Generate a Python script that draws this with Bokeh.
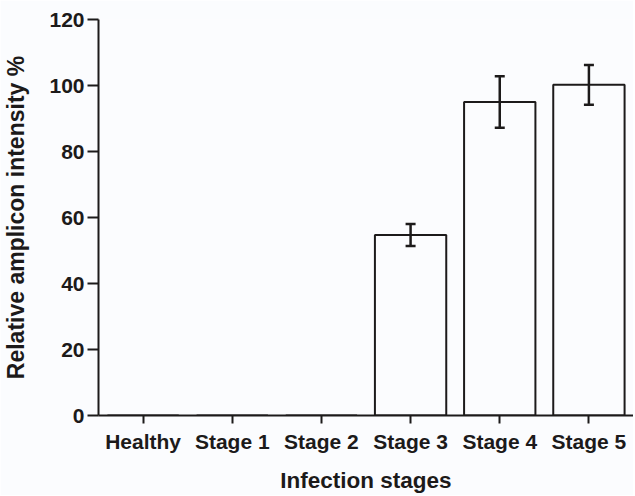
from bokeh.plotting import figure
from bokeh.models import ColumnDataSource, Whisker, TeeHead, FactorRange, FixedTicker
from bokeh.embed import file_html
from bokeh.resources import INLINE

categories = ["Healthy", "Stage 1", "Stage 2", "Stage 3", "Stage 4", "Stage 5"]
intensity = [0, 0, 0, 54.7, 95.0, 100.2]
error = [0, 0, 0, 3.3, 7.8, 6.0]
y_ticks = [0, 20, 40, 60, 80, 100, 120]

upper = [v + e for v, e in zip(intensity, error)]
lower = [v - e for v, e in zip(intensity, error)]
src = ColumnDataSource(data=dict(x=categories, top=intensity, upper=upper, lower=lower))
err_src = ColumnDataSource(data=dict(
    x=categories[3:], upper=upper[3:], lower=lower[3:]))

FONT = "Liberation Sans"
BG = "#fbfcfe"
INK = "#1c1a1a"

p = figure(x_range=FactorRange(*categories, start=0, end=5.88), y_range=(0, 120),
           width=633, height=495, output_backend="svg", toolbar_location=None,
           min_border_left=96, min_border_right=0, min_border_top=19, min_border_bottom=70,
           background_fill_color=BG, border_fill_color=BG, outline_line_color=None)

p.vbar(x="x", top="top", width=0.8, source=src, fill_color=BG,
       line_color=INK, line_width=2)

w = Whisker(base="x", upper="upper", lower="lower", source=err_src,
            line_color=INK, line_width=2.5, level="overlay",
            upper_head=TeeHead(size=10, line_color=INK, line_width=2.5),
            lower_head=TeeHead(size=10, line_color=INK, line_width=2.5))
p.add_layout(w)

p.xgrid.visible = False
p.ygrid.visible = False

p.yaxis.ticker = FixedTicker(ticks=y_ticks)
p.yaxis.minor_tick_line_color = None
p.yaxis.major_tick_out = 11
p.yaxis.major_tick_in = 0
p.yaxis.major_label_standoff = 3
p.yaxis.axis_label = "Relative amplicon intensity %"
p.yaxis.axis_label_standoff = 17
p.yaxis.axis_label_text_font_size = "23px"

p.xaxis.major_tick_out = 8
p.xaxis.major_tick_in = 0
p.xaxis.major_label_standoff = 6
p.xaxis.axis_label = "Infection stages"
p.xaxis.axis_label_standoff = 12
p.xaxis.axis_label_text_font_size = "22.5px"

for ax in (p.xaxis, p.yaxis):
    ax.axis_line_color = INK
    ax.axis_line_width = 2
    ax.major_tick_line_color = INK
    ax.major_tick_line_width = 2
    ax.major_label_text_font = FONT
    ax.major_label_text_font_style = "bold"
    ax.major_label_text_font_size = "21px"
    ax.major_label_text_color = INK
    ax.axis_label_text_font = FONT
    ax.axis_label_text_font_style = "bold"
    ax.axis_label_text_color = INK

open("out.html", "w").write(file_html(p, INLINE))
